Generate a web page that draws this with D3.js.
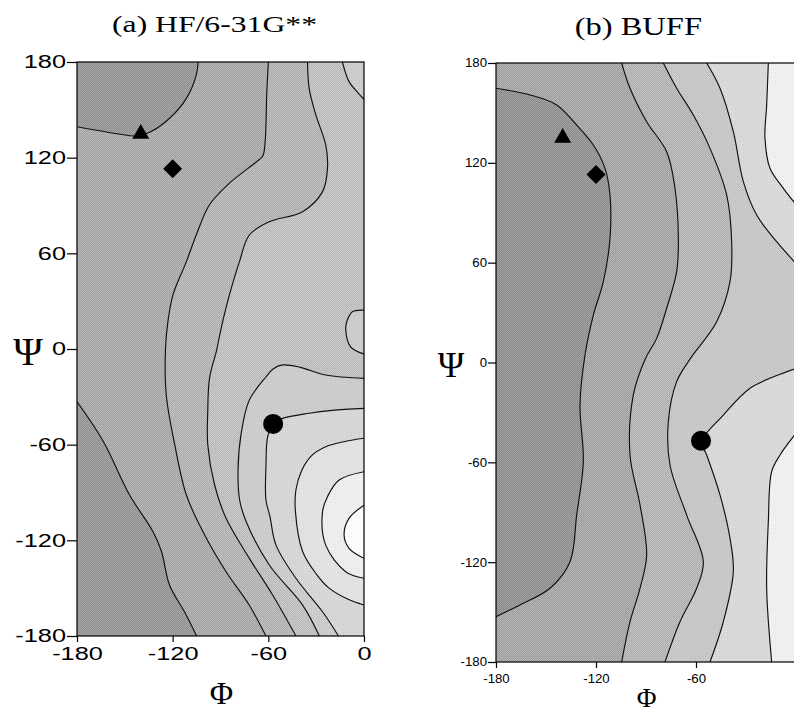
<!DOCTYPE html>
<html>
<head>
<meta charset="utf-8">
<script src="https://cdn.jsdelivr.net/npm/d3@7"></script>
<style>
  body { margin: 0; background: #fff; }
  svg { display: block; }
</style>
</head>
<body>
<svg></svg>
<script>
const svg = d3.select("svg").attr("width", 794).attr("height", 714);

// axis ticks (degrees)
const phiTicks = [-180, -120, -60, 0];
const phiTicksBuff = [-180, -120, -60]; // the 0 label falls outside the cropped figure
const psiTicks = [-180, -120, -60, 0, 60, 120, 180];

// conformer markers [phi, psi]
const triangle = [-140, 135];
const diamond = [-120, 113];
const circle = [-57, -47];

// (a) HF/6-31G** contour lines as [phi, psi]
const hfLine0 = [[-180, -33], [-163.5, -58], [-147, -91.6], [-132.3, -114.6], [-127, -127], [-122, -148], [-112.5, -165], [-105, -180]];
const hfLine1 = [[-180, 139.4], [-153, 134.7], [-143.7, 133.6], [-134.4, 135.9], [-121.9, 144.7], [-111.4, 157.2], [-105.2, 171.8], [-104, 180]];
const hfLine2 = [[-60, 180], [-61, 160], [-62, 130], [-63.5, 121], [-68, 117], [-84.4, 104], [-97, 90.3], [-105.2, 71.5], [-111.4, 54.8], [-119.8, 34], [-123, 17], [-124.5, 0], [-124, -29], [-118.7, -60], [-111.4, -91.6], [-101, -114.6], [-86.5, -139.7], [-72, -160.6], [-61.5, -180]];
const hfLine3 = [[-35.4, 180], [-34.4, 163.5], [-30.2, 146.8], [-24, 128], [-22.9, 113.3], [-26, 98.7], [-38.5, 86.1], [-59.4, 79.8], [-71.9, 71.5], [-78.1, 54.8], [-84.4, 33.9], [-89.6, 13], [-92.5, -1], [-96.9, -18.4], [-98, -39.3], [-98, -60], [-93.7, -85.3], [-86.5, -106.2], [-71.9, -131.3], [-57.3, -154.3], [-42.7, -180]];
const hfLine4 = [[0, -18.4], [-24, -16.3], [-40, -11.5], [-51, -10], [-57, -12.5], [-61.4, -17.4], [-71.9, -32], [-77, -52.7], [-79, -76], [-78, -94.7], [-74, -108], [-59.4, -135.5], [-38.5, -160.6], [-28, -180]];
const hfLine5 = [[0, -37.2], [-20, -38.5], [-34.4, -40.3], [-51, -43.5], [-57, -47], [-60.4, -55], [-61.5, -73.8], [-61.5, -94.7], [-59, -105], [-55.2, -123], [-42.7, -143.8], [-26, -164.8], [-16, -180]];
const hfArc1 = [[0, -56], [-12, -58], [-24, -61.3], [-33, -67], [-39, -76], [-42.7, -88.4], [-43, -102], [-38.5, -127], [-30, -141], [-21.9, -150], [-10, -157], [0, -160.6]];
const hfArc2 = [[0, -77], [-15.6, -82.2], [-22.9, -92.6], [-26, -102], [-24, -123], [-11.5, -139.7], [0, -143.8]];
const hfArc3 = [[0, -98], [-9.4, -106.2], [-12.5, -116.7], [-9.4, -125], [0, -131.3]];
const hfCorner = [[-13.5, 180], [-9.4, 167.7], [-4, 161], [0, 156.5]];
const hfBubble = [[0, 24.4], [-7.3, 23.4], [-10.5, 18], [-11.5, 13], [-8.4, 1.4], [0, -3.1]];

// (b) BUFF contour lines
const bfLine1 = [[-180, 164.8], [-159.6, 160.8], [-143.6, 154.8], [-131.6, 142.7], [-121.6, 130.7], [-114.6, 116.7], [-111.6, 100.7], [-111.6, 74.6], [-115.6, 48.6], [-121.6, 28.5], [-126.6, 4.5], [-129.6, -25.5], [-127.6, -59.6], [-131.6, -91.7], [-135.6, -119.7], [-147.6, -135.7], [-165.6, -145.7], [-180, -152.8]];
const bfLine2 = [[-104.6, 180], [-99.6, 164.8], [-89.6, 144.7], [-77.6, 126.7], [-72.6, 104.7], [-70.6, 74.6], [-71.6, 54.6], [-77.6, 32.6], [-83.6, 14.5], [-90.5, 2], [-97.6, -19.5], [-99.6, -55.6], [-93.6, -85.6], [-89.6, -115.7], [-93.6, -135.7], [-99.6, -155.8], [-104.6, -180]];
const bfLine3 = [[-79.6, 180], [-71.6, 164.8], [-61.6, 148.7], [-51.6, 128.7], [-41.6, 100.7], [-38.6, 72.6], [-39.6, 48.6], [-47.6, 24.5], [-63.6, 2], [-71.6, -11.5], [-76.6, -35.6], [-75.6, -61.6], [-65.6, -91.7], [-55.6, -119.7], [-59.6, -135.7], [-69.6, -155.8], [-78.6, -180]];
const bfLine4 = [[-53.6, 180], [-45.6, 164.8], [-37.6, 138.7], [-31.6, 108.7], [-23.6, 88.6], [-11.6, 72.6], [0, 59.5]];
const bfLine5 = [[0, -3.5], [-12, -8], [-27.6, -15.5], [-43.6, -31.6], [-56.6, -47.6], [-53.6, -55.6], [-45.6, -79.6], [-39.6, -105.7], [-37.6, -125.7], [-43.6, -155.8], [-51.6, -180]];
const bfLine6 = [[-16.6, 180], [-17.6, 154.8], [-18.6, 134.7], [-15.6, 116.7], [-7.6, 104.7], [0, 95]];
const bfLine7 = [[0, -42.5], [-9.6, -55.6], [-14.6, -65.6], [-16.6, -95.7], [-17.6, -135.7], [-14.6, -180]];

const hfShades = ["#949494", "#a8a8a8", "#b3b3b3", "#bfbfbf", "#cbcbcb", "#d6d6d6", "#e2e2e2", "#efefef", "#ffffff"];
const bfShades = ["#8f8f8f", "#a4a4a4", "#b4b4b4", "#c6c6c6", "#d9d9d9", "#f2f2f2"];

const panels = [
  {
    id: "a", title: "(a) HF/6-31G**",
    xRange: [77, 364], yRange: [636, 62],
    xTicks: phiTicks,
    shades: hfShades, base: 1,
    bands: [
      { line: hfLine1, close: [[-180, 180]], shade: 0 },
      { line: hfLine0, close: [[-180, -180]], shade: 0 },
      { line: hfLine2, close: [[0, -180], [0, 180]], shade: 2 },
      { line: hfLine3, close: [[0, -180], [0, 180]], shade: 3 },
      { line: hfCorner, close: [[0, 180]], shade: 4 },
      { line: hfBubble, close: [], shade: 4 },
      { line: hfLine4, close: [[0, -180]], shade: 4 },
      { line: hfLine5, close: [[0, -180]], shade: 5 },
      { line: hfArc1, close: [], shade: 6 },
      { line: hfArc2, close: [], shade: 7 },
      { line: hfArc3, close: [], shade: 8 },
    ],
    tickFont: 18.5, stretch: 1.37, tickY: 10, padY: 1, tickX: 6, padX: 5,
    titleX: 214.5, titleY: 32, titleSize: 24, titleStretch: 1.32,
    psiX: 28, psiY: 365, psiSize: 40,
    phiX: 221.5, phiY: 704, phiSize: 32,
  },
  {
    id: "b", title: "(b) BUFF",
    xRange: [496, 796], yRange: [662, 63],
    xTicks: phiTicksBuff,
    shades: bfShades, base: 1,
    bands: [
      { line: bfLine1, close: [], shade: 0 },
      { line: bfLine2, close: [[0, -180], [0, 180]], shade: 2 },
      { line: bfLine3, close: [[0, -180], [0, 180]], shade: 3 },
      { line: bfLine4, close: [[0, 180]], shade: 4 },
      { line: bfLine5, close: [[0, -180]], shade: 4 },
      { line: bfLine6, close: [[0, 180]], shade: 5 },
      { line: bfLine7, close: [[0, -180]], shade: 5 },
    ],
    tickFont: 12, stretch: 1.1, tickY: 8, padY: 1, tickX: 6, padX: 6,
    titleX: 638.3, titleY: 35, titleSize: 25, titleStretch: 1.3,
    psiX: 451, psiY: 377, psiSize: 36,
    phiX: 646.7, phiY: 707, phiSize: 27,
  },
];

const serif = "'Liberation Serif', 'Times New Roman', serif";
const sans = "'Liberation Sans', Arial, Helvetica, sans-serif";
const plainNumber = (d) => String(d); // hyphen minus, as in the figure

// fine halftone screen laid over the shading
const defs = svg.append("defs");
const screen = defs.append("pattern")
  .attr("id", "screen")
  .attr("width", 2).attr("height", 2)
  .attr("patternUnits", "userSpaceOnUse");
screen.append("rect").attr("x", 0).attr("y", 0).attr("width", 1).attr("height", 1)
  .attr("fill", "#fff").attr("fill-opacity", 0.16);
screen.append("rect").attr("x", 1).attr("y", 1).attr("width", 1).attr("height", 1)
  .attr("fill", "#fff").attr("fill-opacity", 0.16);
screen.append("rect").attr("x", 1).attr("y", 0).attr("width", 1).attr("height", 1)
  .attr("fill", "#000").attr("fill-opacity", 0.06);

const drawPanel = (p) => {
  const x = d3.scaleLinear().domain([-180, 0]).range(p.xRange);
  const y = d3.scaleLinear().domain([-180, 180]).range(p.yRange);
  const [x0, x1] = p.xRange;
  const [yb, yt] = p.yRange;

  defs.append("clipPath").attr("id", "clip-" + p.id)
    .append("rect").attr("x", x0).attr("y", yt).attr("width", x1 - x0).attr("height", yb - yt);

  const g = svg.append("g");
  const plot = g.append("g").attr("clip-path", `url(#clip-${p.id})`);

  plot.append("rect")
    .attr("x", x0).attr("y", yt).attr("width", x1 - x0).attr("height", yb - yt)
    .attr("fill", p.shades[p.base]);

  const lineGen = d3.line()
    .x((d) => x(d[0]))
    .y((d) => y(d[1]))
    .curve(d3.curveCatmullRom.alpha(0.5));

  // shaded bands, painted from outside in
  plot.selectAll("path.band")
    .data(p.bands)
    .join("path")
    .attr("class", "band")
    .attr("d", (b) => lineGen(b.line) + b.close.map((c) => `L${x(c[0])},${y(c[1])}`).join("") + "Z")
    .attr("fill", (b) => p.shades[b.shade]);

  plot.append("rect")
    .attr("x", x0).attr("y", yt).attr("width", x1 - x0).attr("height", yb - yt)
    .attr("fill", "url(#screen)");

  // contour lines
  plot.selectAll("path.contour")
    .data(p.bands)
    .join("path")
    .attr("class", "contour")
    .attr("d", (b) => lineGen(b.line))
    .attr("fill", "none")
    .attr("stroke", "#111")
    .attr("stroke-width", 1.15);

  // markers
  const sym = d3.symbol();
  plot.append("path")
    .attr("d", sym.type(d3.symbolTriangle).size(125)())
    .attr("transform", `translate(${x(triangle[0])},${y(triangle[1])})`);
  plot.append("path")
    .attr("d", sym.type(d3.symbolSquare).size(180)())
    .attr("transform", `translate(${x(diamond[0])},${y(diamond[1])}) rotate(45)`);
  plot.append("path")
    .attr("d", sym.type(d3.symbolCircle).size(Math.PI * 100)())
    .attr("transform", `translate(${x(circle[0])},${y(circle[1])})`);

  // frame
  g.append("rect")
    .attr("x", x0).attr("y", yt).attr("width", x1 - x0).attr("height", yb - yt)
    .attr("fill", "none").attr("stroke", "#000").attr("stroke-width", 1.2);

  // axes
  const xAxisG = g.append("g")
    .attr("transform", `translate(0,${yb})`)
    .call(d3.axisBottom(x).tickValues(p.xTicks).tickFormat(plainNumber)
      .tickSize(p.tickX).tickPadding(p.padX).tickSizeOuter(0));
  xAxisG.select(".domain").remove();
  xAxisG.selectAll(".tick line").attr("stroke-width", 1.2);
  xAxisG.selectAll(".tick text")
    .attr("font-family", sans).attr("font-size", p.tickFont).attr("fill", "#000")
    .attr("transform", `scale(${p.stretch},1)`);

  const yAxisG = g.append("g")
    .attr("transform", `translate(${x0},0)`)
    .call(d3.axisLeft(y).tickValues(psiTicks).tickFormat(plainNumber)
      .tickSize(p.tickY).tickPadding(p.padY).tickSizeOuter(0));
  yAxisG.select(".domain").remove();
  yAxisG.selectAll(".tick line").attr("stroke-width", 1.2);
  yAxisG.selectAll(".tick text")
    .attr("font-family", sans).attr("font-size", p.tickFont).attr("fill", "#000")
    .attr("x", -(p.tickY + p.padY) / p.stretch)
    .attr("transform", `scale(${p.stretch},1)`);

  // titles and axis names
  g.append("text")
    .attr("transform", `translate(${p.titleX},${p.titleY}) scale(${p.titleStretch},1)`)
    .attr("text-anchor", "middle")
    .attr("font-family", serif).attr("font-size", p.titleSize)
    .text(p.title);

  g.append("text")
    .attr("x", p.psiX).attr("y", p.psiY)
    .attr("text-anchor", "middle")
    .attr("font-family", serif).attr("font-size", p.psiSize)
    .text("Ψ");

  g.append("text")
    .attr("x", p.phiX).attr("y", p.phiY)
    .attr("text-anchor", "middle")
    .attr("font-family", serif).attr("font-size", p.phiSize)
    .text("Φ");
};

panels.forEach(drawPanel);
</script>
</body>
</html>
